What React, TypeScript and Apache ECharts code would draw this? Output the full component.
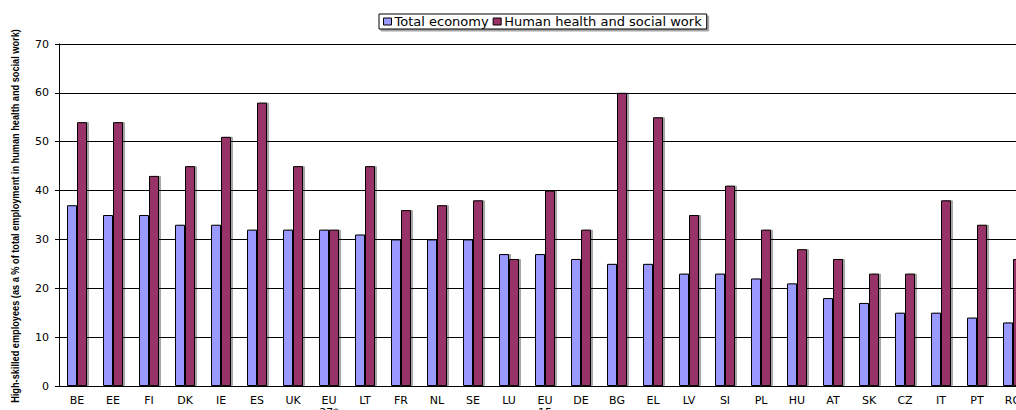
import React, { useEffect, useRef } from "react";
import * as echarts from "echarts";

const categories = ["BE", "EE", "FI", "DK", "IE", "ES", "UK", "EU\n27*", "LT", "FR", "NL", "SE", "LU", "EU\n15", "DE", "BG", "EL", "LV", "SI", "PL", "HU", "AT", "SK", "CZ", "IT", "PT", "RO"];
const totalEconomy = [37, 35, 35, 33, 33, 32, 32, 32, 31, 30, 30, 30, 27, 27, 26, 25, 25, 23, 23, 22, 21, 18, 17, 15, 15, 14, 13];
const healthSocial = [54, 54, 43, 45, 51, 58, 45, 32, 45, 36, 37, 38, 26, 40, 32, 60, 55, 35, 41, 32, 28, 26, 23, 23, 38, 33, 26];
const seriesNames = ["Total economy", "Human health and social work"];
const yAxisTitle = "High-skilled employees (as a % of total employment in human health and social work)";

const FONT = "'DejaVu Sans', Arial, sans-serif";

export default function App() {
  const ref = useRef<HTMLDivElement>(null);
  useEffect(() => {
    if (!ref.current) return;
    const chart = echarts.init(ref.current, undefined, { renderer: "svg" });
    const barStyle = (color: string) => ({
      color,
      borderColor: "#000",
      borderWidth: 1,
      shadowColor: "rgba(0,0,0,0.35)",
      shadowOffsetX: 2,
      shadowOffsetY: 0,
      shadowBlur: 0,
    });
    chart.setOption({
      animation: false,
      backgroundColor: "#fff",
      textStyle: { fontFamily: FONT },
      legend: {
        left: 379,
        top: 14,
        padding: [0, 5, 0, 4],
        itemWidth: 8,
        itemHeight: 7,
        itemGap: 4,
        borderColor: "#000",
        borderWidth: 1,
        shadowColor: "rgba(0,0,0,0.35)",
        shadowOffsetX: 2,
        shadowOffsetY: 2,
        backgroundColor: "#fff",
        icon: "rect",
        textStyle: { fontSize: 13, color: "#000", fontFamily: FONT, padding: [0, 0, 0, -2], lineHeight: 15 },
        itemStyle: { borderColor: "#000", borderWidth: 1 },
        data: seriesNames,
      },
      grid: { left: 59, top: 44, width: 972, height: 342, outerBoundsMode: "none", containLabel: false },
      xAxis: {
        type: "category",
        data: categories,
        axisLine: { lineStyle: { color: "#000", width: 1 } },
        axisTick: { length: 4, lineStyle: { color: "#000" } },
        axisLabel: { fontSize: 11, color: "#000", margin: 8, lineHeight: 12, fontFamily: FONT, interval: 0 },
      },
      yAxis: {
        type: "value",
        min: 0,
        max: 70,
        interval: 10,
        axisLine: { show: true, lineStyle: { color: "#000", width: 1 } },
        axisTick: { show: true, length: 4, lineStyle: { color: "#000" } },
        axisLabel: { fontSize: 11, color: "#000", margin: 10, fontFamily: FONT },
        splitLine: { lineStyle: { color: "#000", width: 1 } },
      },
      graphic: [
        {
          type: "text",
          x: 15,
          y: 216,
          rotation: Math.PI / 2,
          scaleX: 0.92,
          style: {
            text: yAxisTitle,
            font: "bold 10px Arial, 'Liberation Sans', sans-serif",
            fill: "#000",
            align: "center",
            verticalAlign: "middle",
          },
        },
      ],
      series: [
        {
          name: seriesNames[0],
          type: "bar",
          data: totalEconomy,
          barWidth: 10,
          barGap: "0%",
          itemStyle: barStyle("#9999FF"),
        },
        {
          name: seriesNames[1],
          type: "bar",
          data: healthSocial,
          barWidth: 10,
          barGap: "0%",
          itemStyle: barStyle("#993366"),
        },
      ],
    });
    return () => chart.dispose();
  }, []);
  return (
    <div style={{ position: "fixed", left: 0, top: 0, width: 1016, height: 410, overflow: "hidden", background: "#fff" }}>
      <div ref={ref} style={{ width: 1045, height: 410 }} />
    </div>
  );
}
